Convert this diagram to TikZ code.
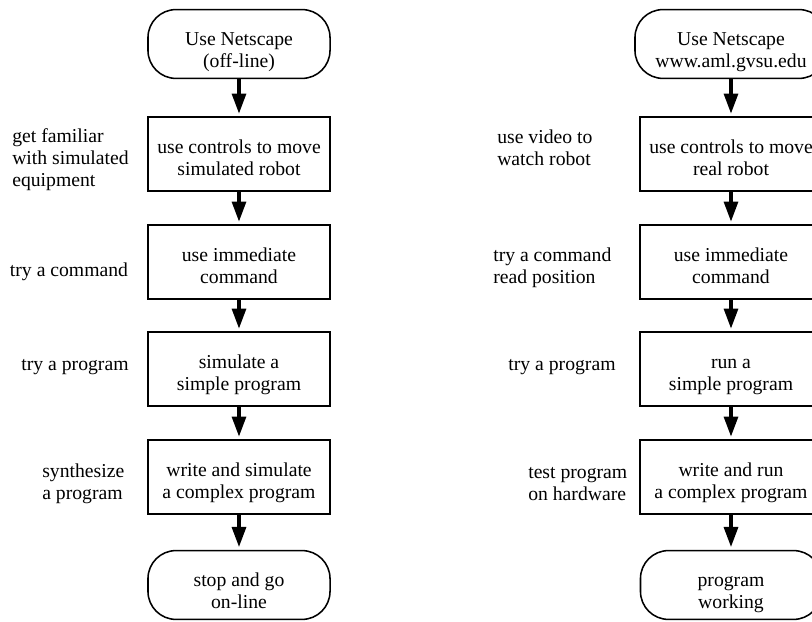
\documentclass[tikz,border=0pt]{standalone}
\usepackage{fontspec}
\setmainfont{Liberation Serif}
\usetikzlibrary{arrows.meta, positioning}

\begin{document}
\begin{tikzpicture}[
    x=0.025cm, y=-0.025cm,
    font=\fontsize{14pt}{15.6pt}\selectfont,
    box/.style  ={draw, line width=1.4pt, align=center, minimum width=4.525cm,
                  minimum height=1.83cm, inner sep=1pt,
                  text height=31pt, text depth=0pt},
    term/.style ={draw, line width=1.1pt, rounded corners=0.7cm, align=center,
                  minimum width=4.55cm, minimum height=1.72cm, inner sep=1pt,
                  text height=33pt, text depth=0pt},
    flow/.style ={-{Triangle[width=0.35cm,length=0.5cm]}, line width=2.2pt,
                  shorten >=2pt},
    note/.style ={align=left, inner sep=0pt}
]
\useasboundingbox (0,0) rectangle (812,622);
\clip (0,0) rectangle (812,622);

% Left column: simulated robot (off-line)
\node[term] (sstart) at (239,44)  {Use Netscape\\(off-line)};
\node[box]  (smove)  at (239,154) {use controls to move\\simulated robot};
\node[box]  (simm)   at (239,262) {use immediate\\command};
\node[box]  (ssimp)  at (239,369) {simulate a\\simple program};
\node[box]  (scomp)  at (239,477) {write and simulate\\a complex program};
\node[term] (sstop)  at (239,585) {stop and go\\on-line};

% Left notes
\node[note, anchor=west] (nfam) at (12,160) {get familiar\\with simulated\\equipment};
\node[note] (ncmd)  at (69,272)  {try a command};
\node[note] (nprog) at (75,367)  {try a program};
\node[note, anchor=west] (nsyn) at (42,484) {synthesize\\a program};

% Right column: real robot (on-line)
\node[term, minimum width=4.8cm] (rstart) at (731,44) {Use Netscape\\www.aml.gvsu.edu};
\node[box]  (rmove)  at (731,154) {use controls to move\\real robot};
\node[box]  (rimm)   at (731,262) {use immediate\\command};
\node[box]  (rsimp)  at (731,369) {run a\\simple program};
\node[box]  (rcomp)  at (731,477) {write and run\\a complex program};
\node[term, minimum width=4.525cm] (rstop) at (731,585) {program\\working};

% Right notes
\node[note, anchor=west] (nvid)  at (497,148) {use video to\\watch robot};
\node[note, anchor=west] (nread) at (493,268) {try a command\\read position};
\node[note] (nrprog) at (562,367) {try a program};
\node[note, anchor=west] (ntest) at (528,484) {test program\\on hardware};

% --- Arrows ---
\draw[flow] (sstart) -- (smove);
\draw[flow] (smove) -- (simm);
\draw[flow] (simm) -- (ssimp);
\draw[flow] (ssimp) -- (scomp);
\draw[flow] (scomp) -- (sstop);

\draw[flow] (rstart) -- (rmove);
\draw[flow] (rmove) -- (rimm);
\draw[flow] (rimm) -- (rsimp);
\draw[flow] (rsimp) -- (rcomp);
\draw[flow] (rcomp) -- (rstop);

\end{tikzpicture}
\end{document}
